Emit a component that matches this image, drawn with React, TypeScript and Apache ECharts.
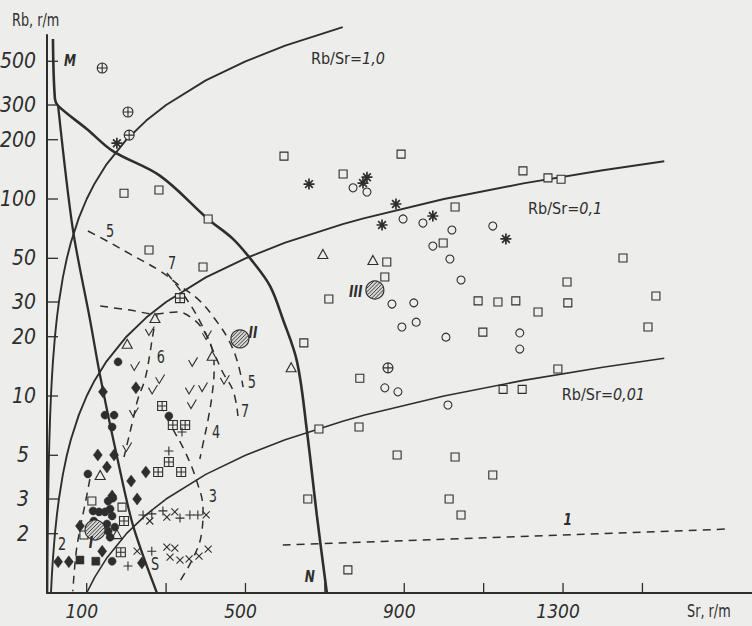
import React, { useEffect, useRef } from "react";
import * as echarts from "echarts";

const INK = "#2e2e2e";
const PAPER = "#ededeb";
const FONT = '"Liberation Sans Narrow", "DejaVu Sans Condensed", "Liberation Sans", "DejaVu Sans", sans-serif';
const NARROW = 0.84;

// ---- axes ----
const srTicks = [100, 300, 500, 700, 900, 1100, 1300, 1500];
const srTickLabels = [100, 500, 900, 1300];
const rbTicks = [2, 3, 5, 10, 20, 30, 50, 100, 200, 300, 500];
const SR_MAX = 1776;
const RB_MIN = 1;
const RB_MAX = 680;

// ---- Rb/Sr reference lines ----
const ratioLines = [
  { ratio: 1.0, from: 1, to: 745 },
  { ratio: 0.1, from: 10, to: 1555 },
  { ratio: 0.01, from: 100, to: 1555 },
];
const srSamples = [1, 1.2, 1.5, 2, 2.5, 3, 4, 5, 6, 8, 10, 12, 15, 20, 25, 30, 40, 50, 60, 80, 100, 120, 150, 200, 250, 300, 400, 500, 600, 745, 800, 1000, 1200, 1400, 1555];

// ---- boundary curve M–N and its steep branch [Sr, Rb] ----
const curveMN = [[15, 649], [20, 322], [28, 297], [101, 226], [166, 175], [285, 131], [406, 79], [469, 62.6], [519, 47.9], [562, 36.1], [594, 24.6], [630, 14.9], [655, 6.6], [680, 2.46], [705, 1.0]];
const curveBranch = [[28, 297], [65, 70.4], [108, 24.6], [134, 12.6], [176, 4.96], [217, 2.19], [277, 1.0]];

// ---- dashed field contours 1–7 [Sr, Rb] ----
const field1 = [[594, 1.75], [1708, 2.11]];
const field2 = [[108, 3.79], [96, 2.83], [83, 2.11], [73, 1.58], [65, 1.02]];
const field3 = [[285, 9.1], [310, 7.21], [348, 5.2], [378, 3.66], [393, 2.67], [390, 2.04], [373, 1.58], [335, 1.15]];
const field4 = [[134, 28.6], [209, 27.3], [272, 26.1], [327, 26.7], [368, 24.6], [398, 20.9], [416, 17.3], [421, 13.7], [416, 10.2], [406, 7.64], [393, 5.71], [385, 4.79]];
const field5 = [[103, 68.8], [151, 61.2], [209, 52.6], [285, 43.1], [335, 36.2], [385, 30.4], [423, 24.6], [456, 19.5], [479, 15.1], [494, 11.1]];
const field6 = [[277, 25.8], [267, 20.6], [259, 16.3], [247, 12.2], [229, 9.65], [217, 7.64], [202, 5.71], [194, 4.9]];
const field7 = [[302, 42.1], [348, 31.8], [385, 24.0], [411, 18.4], [441, 13.4], [469, 10.6], [481, 7.92]];

// ---- samples [Sr, Rb] ----
const openSquares = [
  [194, 107], [282, 111], [406, 79.2], [257, 55.1], [393, 45.2], [597, 165], [892, 169], [746, 134],
  [1028, 91.1], [998, 59.8], [856, 47.9], [851, 40.2], [710, 31.1], [1086, 30.4], [1136, 30.0], [1181, 30.4],
  [1237, 26.7], [1312, 29.7], [1199, 139], [1262, 128], [1295, 126], [1451, 50.2], [1310, 37.9], [1534, 32.2],
  [1514, 22.4], [1098, 21.1], [1287, 13.7], [1149, 10.8], [1197, 10.8], [1123, 3.97], [647, 18.6], [788, 12.3],
  [685, 6.8], [786, 6.96], [882, 5.02], [1028, 4.9], [657, 3.0], [1013, 3.0], [1043, 2.49], [758, 1.31],
  [113, 2.93], [189, 2.73], [93, 1.97],
];
const openCircles = [
  [771, 114], [806, 108.5], [897, 79.2], [947, 75.5], [1020, 69.6], [1123, 72.9], [972, 57.7], [1015, 49.6],
  [1043, 38.8], [869, 29.3], [924, 29.7], [894, 22.4], [930, 23.7], [1005, 19.9], [851, 11.0], [884, 10.5],
  [1010, 9.0], [1191, 20.9], [1191, 17.3],
];
const asterisks = [[176, 192], [660, 119], [806, 129], [796, 120.5], [879, 94.3], [844, 73.8], [972, 82], [1156, 62.7]];
const circledPlus = [[139, 462], [204, 276.5], [207, 211], [859, 13.9]];
const triangles = [[695, 52.6], [821, 49.0], [615, 14.0], [272, 24.9], [202, 18.4], [416, 16.0], [134, 3.97], [176, 1.99]];
const checks = [[259, 21.4], [222, 14.2], [368, 14.9], [285, 12.2], [267, 10.8], [360, 10.8], [393, 11.1], [365, 9.1], [448, 12.1], [403, 20.4], [219, 8.3], [202, 5.51]];
const diamonds = [[141, 10.5], [224, 11.0], [128, 5.02], [169, 5.02], [151, 4.36], [212, 3.7], [249, 4.11], [227, 3.0], [164, 3.11], [83, 2.19], [28, 1.44], [55, 1.44], [139, 1.63], [239, 1.42]];
const dots = [
  [179, 14.9], [146, 8.0], [169, 8.0], [164, 6.96], [307, 7.92], [103, 4.02], [154, 2.93], [166, 3.03],
  [116, 2.61], [131, 2.58], [146, 2.58], [159, 2.67], [164, 2.46], [118, 2.32], [151, 2.24], [171, 2.16],
  [134, 2.11], [154, 2.06], [159, 1.92], [164, 1.45],
];
const filledSquares = [[83, 1.47], [123, 1.45]];
const squaredPlus = [[335, 31.4], [290, 8.9], [317, 7.12], [348, 7.12], [307, 4.62], [280, 4.11], [338, 4.11], [194, 2.32], [186, 1.61]];
const pluses = [[307, 5.26], [340, 6.57], [242, 2.49], [264, 2.52], [292, 2.61], [335, 2.4], [360, 2.49], [380, 2.49], [264, 1.63], [204, 1.37]];
const crosses = [[259, 2.32], [302, 2.43], [322, 2.58], [401, 2.49], [227, 1.63], [302, 1.71], [322, 1.69], [310, 1.52], [335, 1.47], [358, 1.49], [383, 1.54], [406, 1.67]];
const averages = [[121, 2.09], [486, 19.5], [826, 34.5]];

// ---- annotations [Sr, Rb, text] ----
const fieldLabels: [number, number, string][] = [
  [159, 68.8, "5"], [315, 47.3, "7"], [287, 15.8, "6"], [516, 11.8, "5"], [499, 8.4, "7"],
  [426, 6.57, "4"], [418, 3.11, "3"], [38, 1.77, "2"], [272, 1.4, "S"],
];
const italicLabels: [number, number, string][] = [
  [58, 508, "M"], [662, 1.22, "N"], [1312, 2.37, "1"], [111, 1.82, "I"], [519, 21.1, "II"], [778, 34.1, "III"],
];
const ratioLabels: [number, number, string][] = [
  [665, 514, "1,0"], [1212, 90.0, "0,1"], [1297, 10.2, "0,01"],
];

function ratioLine(r: { ratio: number; from: number; to: number }) {
  const xs = srSamples.filter((s) => s > r.from && s < r.to);
  return [r.from, ...xs, r.to].map((s) => [s, s * r.ratio]);
}

function lineSeries(data: number[][], width: number, dashed: boolean, smooth: number | boolean) {
  return {
    type: "line",
    data,
    symbol: "none",
    smooth,
    clip: false,
    silent: true,
    z: 2,
    lineStyle: { color: INK, width, type: dashed ? [8, 6] : "solid" },
  };
}

function scatter(data: number[][], symbol: string, size: number | number[], fill: string, stroke: string, bw: number) {
  return {
    type: "scatter",
    data,
    symbol,
    symbolSize: size,
    silent: true,
    z: 3,
    itemStyle: { color: fill, borderColor: stroke, borderWidth: bw, opacity: 1 },
  };
}

function textSeries(items: [number, number, string][], style: any) {
  return {
    type: "custom",
    coordinateSystem: "cartesian2d",
    data: items.map((d) => [d[0], d[1]]),
    silent: true,
    clip: false,
    z: 6,
    renderItem: (params: any, api: any) => {
      const p = api.coord([api.value(0), api.value(1)]);
      return {
        type: "text",
        x: p[0],
        y: p[1],
        scaleX: NARROW,
        style: {
          text: items[params.dataIndex][2],
          fill: INK,
          fontFamily: FONT,
          align: "center",
          verticalAlign: "middle",
          textAlign: "center",
          textVerticalAlign: "middle",
          ...style,
        },
      };
    },
  };
}

export default function App() {
  const ref = useRef<HTMLDivElement>(null);

  useEffect(() => {
    document.body.style.margin = "0";
    const chart = echarts.init(ref.current!, null, { renderer: "svg" });

    const series: any[] = [];

    ratioLines.forEach((r, i) => series.push(lineSeries(ratioLine(r), i === 2 ? 1.6 : 1.9, false, false)));
    series.push(lineSeries(curveMN, 2.6, false, 0.35));
    series.push(lineSeries(curveBranch, 2.3, false, 0.3));
    [field1, field2, field3, field4, field5, field6, field7].forEach((f) => series.push(lineSeries(f, 1.5, true, 0.4)));

    series.push(scatter(openSquares, "rect", 8, PAPER, INK, 1.1));
    series.push(scatter(openCircles, "circle", 8, PAPER, INK, 1.1));
    series.push(scatter(triangles, "triangle", [10, 9], PAPER, INK, 1.1));
    series.push(scatter(circledPlus, "path://M0,5 A5,5 0 1,1 10,5 A5,5 0 1,1 0,5 Z M0,5 L10,5 M5,0 L5,10", 10, PAPER, INK, 1.1));
    series.push(scatter(squaredPlus, "path://M0,0 L10,0 L10,10 L0,10 Z M0,5 L10,5 M5,0 L5,10", 9, PAPER, INK, 1.1));
    series.push(scatter(asterisks, "path://M5,0 L5,10 M0,5 L10,5 M1.5,1.5 L8.5,8.5 M8.5,1.5 L1.5,8.5", 11, "none", INK, 1.7));
    series.push(scatter(asterisks, "circle", 4, INK, INK, 0));
    series.push(scatter(checks, "path://M0,3 L4,10 L10,0", 9, "none", INK, 1.1));
    series.push(scatter(pluses, "path://M5,0 L5,10 M0,5 L10,5", 9, "none", INK, 1.1));
    series.push(scatter(crosses, "path://M0,0 L10,10 M10,0 L0,10", 7, "none", INK, 1.1));
    series.push(scatter(diamonds, "diamond", [9, 12], INK, INK, 0.5));
    series.push(scatter(dots, "circle", 8, INK, INK, 0.5));
    series.push(scatter(filledSquares, "rect", 8, INK, INK, 0.5));

    // hatched average points I, II, III
    series.push({
      type: "custom",
      coordinateSystem: "cartesian2d",
      data: averages,
      silent: true,
      z: 4,
      renderItem: (params: any, api: any) => {
        const [cx, cy] = api.coord([api.value(0), api.value(1)]);
        const r = params.dataIndex === 0 ? 10 : 9;
        const children: any[] = [
          { type: "circle", shape: { cx, cy, r }, style: { fill: "#d6d6d4", stroke: INK, lineWidth: 1.2 } },
        ];
        for (let t = -r + 2; t <= r - 2; t += 2.6) {
          const h = Math.sqrt(r * r - t * t) - 0.6;
          const nx = t * 0.7071;
          const ny = t * 0.7071;
          const dx = 0.7071 * h;
          const dy = -0.7071 * h;
          children.push({
            type: "line",
            shape: { x1: cx + nx - dx, y1: cy + ny - dy, x2: cx + nx + dx, y2: cy + ny + dy },
            style: { stroke: INK, lineWidth: 0.9 },
          });
        }
        return { type: "group", children };
      },
    });

    // Rb ticks and labels
    series.push({
      type: "custom",
      coordinateSystem: "cartesian2d",
      data: rbTicks.map((v) => [0, v]),
      silent: true,
      clip: false,
      z: 6,
      renderItem: (params: any, api: any) => {
        const v = rbTicks[params.dataIndex];
        const p = api.coord([0, v]);
        return {
          type: "group",
          children: [
            { type: "line", shape: { x1: p[0], y1: p[1], x2: p[0] + 11, y2: p[1] }, style: { stroke: INK, lineWidth: 1.3 } },
            {
              type: "text",
              x: p[0] - (v < 10 ? 18 : 11),
              y: p[1],
              style: {
                text: String(v), fill: INK, fontFamily: FONT, fontSize: 21, fontStyle: "italic",
                align: "right", verticalAlign: "middle", textAlign: "right", textVerticalAlign: "middle",
              },
            },
          ],
        };
      },
    });

    // Sr ticks and labels
    series.push({
      type: "custom",
      coordinateSystem: "cartesian2d",
      data: srTicks.map((v) => [v, RB_MIN]),
      silent: true,
      clip: false,
      z: 6,
      renderItem: (params: any, api: any) => {
        const v = srTicks[params.dataIndex];
        const p = api.coord([v, RB_MIN]);
        const children: any[] = [
          { type: "line", shape: { x1: p[0], y1: p[1], x2: p[0], y2: p[1] - 10 }, style: { stroke: INK, lineWidth: 1.3 } },
        ];
        if (srTickLabels.indexOf(v) >= 0) {
          children.push({
            type: "text",
            x: p[0] - 5,
            y: p[1] + 18,
            style: {
              text: String(v), fill: INK, fontFamily: FONT, fontSize: 19, fontStyle: "italic",
              align: "center", verticalAlign: "middle", textAlign: "center", textVerticalAlign: "middle",
            },
          });
        }
        return { type: "group", children };
      },
    });

    series.push(textSeries(fieldLabels, { fontSize: 17 }));
    series.push(textSeries(italicLabels, { fontSize: 16, fontStyle: "italic", fontWeight: "bold" }));
    series.push({
      type: "custom",
      coordinateSystem: "cartesian2d",
      data: ratioLabels.map((d) => [d[0], d[1]]),
      silent: true,
      clip: false,
      z: 6,
      renderItem: (params: any, api: any) => {
        const p = api.coord([api.value(0), api.value(1)]);
        return {
          type: "text",
          x: p[0],
          y: p[1],
          style: {
            text: "{a|Rb/Sr=}{b|" + ratioLabels[params.dataIndex][2] + "}",
            fill: INK,
            align: "left",
            verticalAlign: "middle",
            textAlign: "left",
            textVerticalAlign: "middle",
            rich: {
              a: { fontFamily: FONT, fontSize: 16, fill: INK, color: INK },
              b: { fontFamily: FONT, fontSize: 16, fontStyle: "italic", fill: INK, color: INK },
            },
          },
        };
      },
    });

    chart.setOption({
      animation: false,
      backgroundColor: PAPER,
      grid: { left: 47, top: 35, right: 0, bottom: 33, containLabel: false },
      xAxis: {
        type: "value",
        min: 0,
        max: SR_MAX,
        axisLine: { show: true, onZero: false, lineStyle: { color: INK, width: 2.2 } },
        axisTick: { show: false },
        axisLabel: { show: false },
        splitLine: { show: false },
      },
      yAxis: {
        type: "log",
        logBase: 10,
        min: RB_MIN,
        max: RB_MAX,
        axisLine: { show: true, onZero: false, lineStyle: { color: INK, width: 2 } },
        axisTick: { show: false },
        axisLabel: { show: false },
        splitLine: { show: false },
      },
      graphic: [
        { type: "text", x: 12, y: 20, scaleX: NARROW, style: { text: "Rb, r/m", fill: INK, fontFamily: FONT, fontSize: 17, verticalAlign: "middle", textVerticalAlign: "middle" } },
        { type: "text", x: 687, y: 611, scaleX: NARROW, style: { text: "Sr, r/m", fill: INK, fontFamily: FONT, fontSize: 17, verticalAlign: "middle", textVerticalAlign: "middle" } },
      ],
      series,
    });

    return () => chart.dispose();
  }, []);

  return <div ref={ref} style={{ width: 752, height: 626, background: PAPER }} />;
}
